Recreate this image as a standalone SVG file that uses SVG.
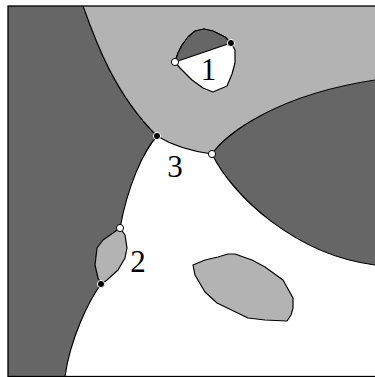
<svg xmlns="http://www.w3.org/2000/svg" width="375" height="377" viewBox="0 0 375 377">
<style>
.dk{fill:#666666;stroke:none}
.lt{fill:#b3b3b3;stroke:none}
.edge{fill:none;stroke:#000;stroke-width:1.2;stroke-linejoin:round}
.outl{stroke:#000;stroke-width:1.2;stroke-linejoin:round}
.wdot{fill:#fff;stroke:#000;stroke-width:1}
.bdot{fill:#000;stroke:#fff;stroke-width:1}
.lbl{font-family:"Liberation Serif","Times New Roman",serif;font-size:31px;fill:#000;text-anchor:middle}
</style>
<rect x="8" y="6" width="372" height="370.5" fill="#fff"/>
<g id="region-light">
<path class="lt" d="M83,6 C95,40 115,95 157,136 C170,144 190,151 212,154 C225,135 275,95 375,80 L380,80 L380,6 Z"/>
</g>
<g id="region-dark-left">
<path class="dk" d="M8,6 L83,6 C95,40 115,95 157,136 C143,152 128,185 120,228 L113,233 L103,240 L97,248 L95,265 L98,278 L101,284 C88,302 70,340 65,376.5 L8,376.5 Z"/>
</g>
<g id="region-dark-right">
<path class="dk" d="M212,154 C225,135 275,95 375,80 L380,80 L380,265 L375,265 C295,255 232,195 212,154 Z"/>
</g>
<g id="boundaries">
<path class="edge" d="M83,6 C95,40 115,95 157,136 C143,152 128,185 120,228"/>
<path class="edge" d="M101,284 C88,302 70,340 65,376.5"/>
<path class="edge" d="M157,136 C170,144 190,151 212,154"/>
<path class="edge" d="M212,154 C225,135 275,95 375,80"/>
<path class="edge" d="M212,154 C232,195 295,255 375,265"/>
</g>
<g id="hole-1">
<path class="outl" fill="#fff" d="M175,62 L178,53 L182,45 L188,37 L195,31 L204,29 L213,31 L225,37 L231,43 L235,50 L235,63 L232,74 L227,86 L213,92 L203,88 L192,80 L180,68 Z"/>
<path class="dk" d="M175,62 L178,53 L182,45 L188,37 L195,31 L204,29 L213,31 L225,37 L231,43 Z"/>
<path class="edge" d="M175,62 L178,53 L182,45 L188,37 L195,31 L204,29 L213,31 L225,37 L231,43 L175,62"/>
</g>
<g id="hole-2">
<path class="outl" fill="#b3b3b3" d="M120,228 L125,235 L127,248 L125,258 L118,270 L107,280 L101,284 L98,278 L95,265 L97,248 L103,240 L113,233 Z"/>
</g>
<g id="island">
<path class="outl" fill="#b3b3b3" d="M193,265 L195,275 L205,292 L217,303 L248,318 L265,320 L287,321 L291,315 L293,308 L293,298 L283,280 L265,267 L252,260 L235,254 L228,254 L218,257 L205,260 Z"/>
</g>
<rect x="8" y="6" width="372" height="370.5" fill="none" stroke="#000" stroke-width="1.3"/>
<g id="points">
<circle class="wdot" cx="175" cy="62" r="3.6"/>
<circle class="bdot" cx="231" cy="43" r="3.6"/>
<circle class="bdot" cx="157" cy="136" r="3.6"/>
<circle class="wdot" cx="212" cy="154" r="3.6"/>
<circle class="wdot" cx="120" cy="228" r="3.6"/>
<circle class="bdot" cx="101" cy="284" r="3.6"/>
</g>
<g id="labels">
<text class="lbl" x="208.5" y="80">1</text>
<text class="lbl" x="175" y="177">3</text>
<text class="lbl" x="138" y="272">2</text>
</g>
</svg>
